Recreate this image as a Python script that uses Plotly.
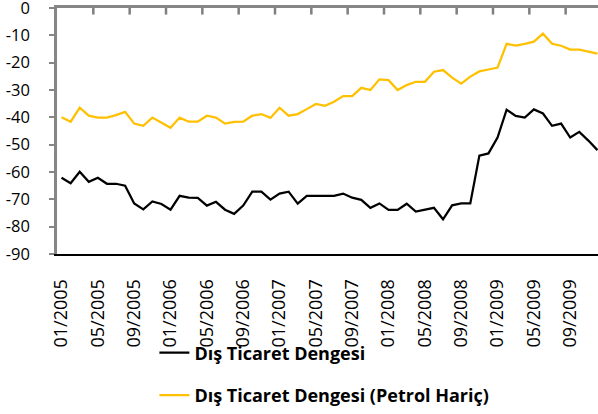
import plotly.graph_objects as go

months = [f"{m:02d}/{y}" for y in range(2005, 2010) for m in range(1, 13)]

dis_ticaret = [
    -62.1, -64.1, -59.9, -63.6, -62.1, -64.3, -64.3, -65.0, -71.5, -73.7,
    -70.8, -71.7, -73.8, -68.7, -69.4, -69.5, -72.3, -70.9, -73.8, -75.3,
    -72.3, -67.2, -67.2, -70.1, -67.9, -67.2, -71.6, -68.7, -68.7, -68.7,
    -68.7, -67.9, -69.4, -70.2, -73.1, -71.5, -73.9, -73.9, -71.6, -74.5,
    -73.8, -73.1, -77.3, -72.2, -71.5, -71.5, -54.0, -53.2, -47.4, -37.2,
    -39.5, -40.1, -37.1, -38.6, -43.1, -42.3, -47.4, -45.3, -48.5, -52.0,
]
petrol_haric = [
    -40.0, -41.6, -36.5, -39.4, -40.1, -40.1, -39.2, -38.0, -42.3, -43.1,
    -40.1, -42.0, -43.8, -40.1, -41.6, -41.6, -39.4, -40.1, -42.3, -41.7,
    -41.6, -39.4, -38.8, -40.2, -36.5, -39.4, -38.8, -37.0, -35.1, -35.8,
    -34.3, -32.2, -32.2, -29.2, -30.0, -26.1, -26.4, -30.0, -28.2, -27.0,
    -27.0, -23.3, -22.7, -25.5, -27.7, -25.1, -23.2, -22.5, -21.8, -13.1,
    -13.8, -13.1, -12.3, -9.4, -13.1, -13.8, -15.2, -15.2, -16.0, -16.7,
]
series_names = ["Dış Ticaret Dengesi", "Dış Ticaret Dengesi (Petrol Hariç)"]
y_ticks = [0, -10, -20, -30, -40, -50, -60, -70, -80, -90]

idx = list(range(len(months)))
label_idx = idx[::4]
label_text = [months[i] for i in label_idx]
xrange = [-0.5, 59.06]
# category-group boundaries where the top (zero-line) axis has its tick marks
top_ticks = [i - 0.5 for i in label_idx[1:]]

fig = go.Figure()
fig.add_trace(go.Scatter(x=idx, y=dis_ticaret, mode="lines", name=series_names[0],
                         line=dict(color="#000000", width=2.25), legendgroup="a"))
fig.add_trace(go.Scatter(x=idx, y=petrol_haric, mode="lines", name=series_names[1],
                         line=dict(color="#FFC000", width=2.25), legendgroup="b"))
# invisible trace to activate top axis
fig.add_trace(go.Scatter(x=[idx[0]], y=[-45], xaxis="x2", yaxis="y", mode="markers",
                         marker=dict(opacity=0), showlegend=False, hoverinfo="skip"))

font_family = "Open Sans, Liberation Sans, sans-serif"

# small tick marks hanging down from the top (zero) axis line
for tv in top_ticks:
    fig.add_shape(type="line", xref="x", yref="y", x0=tv, x1=tv,
                  y0=0, y1=-2.4, line=dict(color="#7f7f7f", width=2.5),
                  layer="above")

fig.update_layout(
    width=598, height=414,
    margin=dict(l=57, r=0, t=8, b=160, autoexpand=False),
    paper_bgcolor="white", plot_bgcolor="white",
    font=dict(family=font_family, color="#000000"),
    showlegend=True,
    legend=dict(
        x=0.18, y=-0.327, xanchor="left", yanchor="top",
        font=dict(family=font_family, size=18, color="#000000", weight="bold"),
        tracegroupgap=16, bgcolor="rgba(0,0,0,0)",
    ),
    xaxis=dict(
        range=xrange, tickmode="array", tickvals=label_idx, ticktext=label_text,
        tickangle=-90, ticks="", showgrid=False, zeroline=False,
        showline=True, linecolor="#000000", linewidth=2,
        tickfont=dict(size=18, family=font_family), ticklabelstandoff=16,
        automargin=False, ticklabeloverflow="allow",
    ),
    xaxis2=dict(
        range=xrange, overlaying="x", side="top", anchor="y",
        showticklabels=False, ticks="",
        showgrid=False, zeroline=False, showline=True,
        linecolor="#868686", linewidth=2.5, automargin=False,
    ),
    yaxis=dict(
        range=[-90, 0], tickmode="array", tickvals=y_ticks,
        ticktext=[str(v) for v in y_ticks], ticks="outside", ticklen=5,
        tickwidth=2, tickcolor="#868686", showgrid=False, zeroline=False,
        showline=True, linecolor="#868686", linewidth=2.5,
        tickfont=dict(size=16.5, family=font_family), ticklabelstandoff=16,
        automargin=False, ticklabeloverflow="allow",
    ),
)

fig.write_html("out.html", config={"displayModeBar": False},
               post_script="document.body.style.margin='0';")
